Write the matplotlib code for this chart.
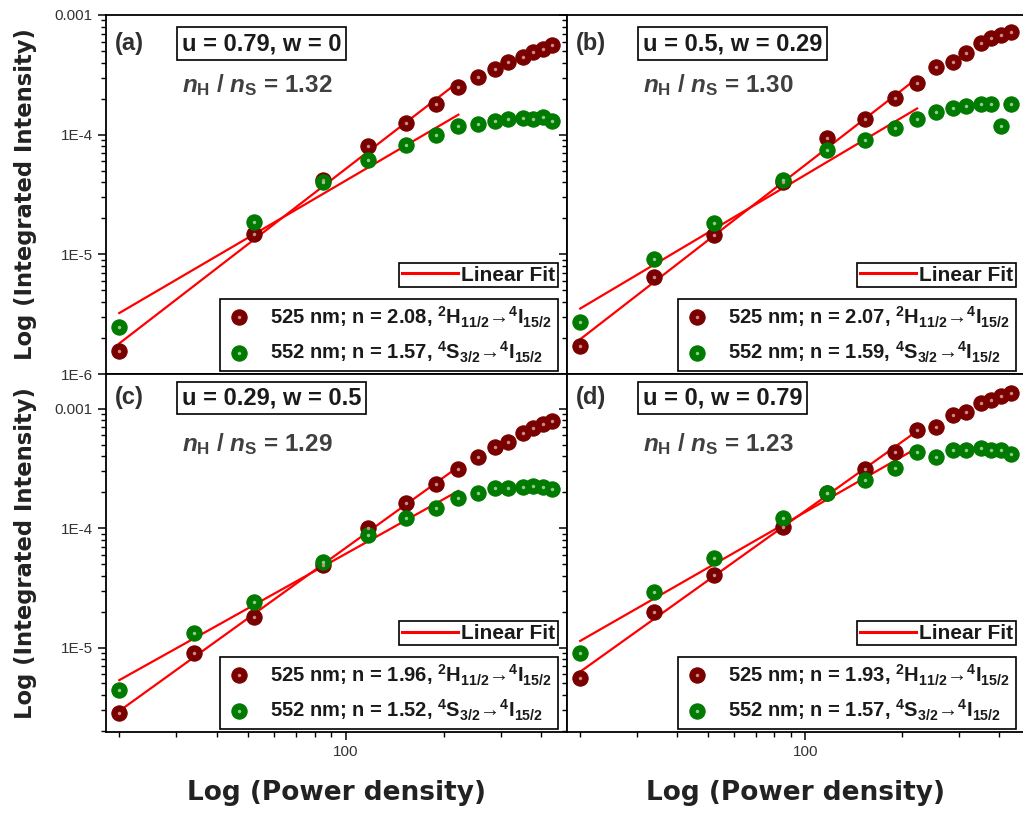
import numpy as np
import matplotlib
matplotlib.use('Agg')
import matplotlib.pyplot as plt
from matplotlib.ticker import LogLocator, FuncFormatter, NullFormatter
from matplotlib.lines import Line2D

plt.rcParams['font.family'] = ['Liberation Sans', 'DejaVu Sans']
plt.rcParams['mathtext.fontset'] = 'custom'
plt.rcParams['mathtext.rm'] = 'Liberation Sans:bold'
plt.rcParams['mathtext.it'] = 'Liberation Sans:italic:bold'
plt.rcParams['mathtext.bf'] = 'Liberation Sans:bold'

nan = np.nan

# power density (x) shared by all panels
power = [20, 34, 52, 85, 117, 153, 189, 222, 255, 287, 316, 351, 377, 405, 433]

# integrated intensity, 525 nm and 552 nm bands
a_525 = [1.57e-6, nan, 1.49e-5, 4.16e-5, 8.05e-5, 1.24e-4, 1.82e-4, 2.48e-4,
         3.05e-4, 3.51e-4, 4.07e-4, 4.48e-4, 4.87e-4, 5.17e-4, 5.61e-4]
a_552 = [2.47e-6, nan, 1.87e-5, 4.03e-5, 6.2e-5, 8.16e-5, 9.9e-5, 1.18e-4,
         1.22e-4, 1.30e-4, 1.36e-4, 1.39e-4, 1.36e-4, 1.40e-4, 1.30e-4]
b_525 = [1.73e-6, 6.46e-6, 1.44e-5, 4.03e-5, 9.29e-5, 1.34e-4, 2.01e-4, 2.68e-4,
         3.70e-4, 4.07e-4, 4.78e-4, 5.79e-4, 6.38e-4, 6.81e-4, 7.25e-4]
b_552 = [2.71e-6, 9.2e-6, 1.81e-5, 4.16e-5, 7.41e-5, 9.0e-5, 1.13e-4, 1.36e-4,
         1.55e-4, 1.66e-4, 1.73e-4, 1.82e-4, 1.82e-4, 1.18e-4, 1.80e-4]
c_525 = [2.81e-6, 8.95e-6, 1.82e-5, 4.92e-5, 1.0e-4, 1.62e-4, 2.35e-4, 3.13e-4,
         3.98e-4, 4.83e-4, 5.32e-4, 6.33e-4, 6.89e-4, 7.44e-4, 7.84e-4]
c_552 = [4.41e-6, 1.32e-5, 2.43e-5, 5.25e-5, 8.8e-5, 1.21e-4, 1.47e-4, 1.78e-4,
         1.96e-4, 2.16e-4, 2.16e-4, 2.2e-4, 2.26e-4, 2.22e-4, 2.12e-4]
d_525 = [5.53e-6, 2.0e-5, 4.07e-5, 1.03e-4, 1.96e-4, 3.13e-4, 4.39e-4, 6.67e-4,
         7.11e-4, 8.91e-4, 9.5e-4, 1.12e-3, 1.19e-3, 1.27e-3, 1.35e-3]
d_552 = [8.95e-6, 2.94e-5, 5.61e-5, 1.21e-4, 1.96e-4, 2.54e-4, 3.18e-4, 4.39e-4,
         3.98e-4, 4.53e-4, 4.5e-4, 4.68e-4, 4.53e-4, 4.5e-4, 4.2e-4]

panel_tags = ['(a)', '(b)', '(c)', '(d)']
uw_labels = ['u = 0.79, w = 0', 'u = 0.5, w = 0.29', 'u = 0.29, w = 0.5', 'u = 0, w = 0.79']
ratio = ['1.32', '1.30', '1.29', '1.23']
n_525 = ['2.08', '2.07', '1.96', '1.93']
n_552 = ['1.57', '1.59', '1.52', '1.57']
series = [(a_525, a_552), (b_525, b_552), (c_525, c_552), (d_525, d_552)]
n_fit = 8  # points used for the linear fit (up to ~222)

RED, GREEN = '#7a0000', '#007a00'
TXT = '#1a1a1a'

fig = plt.figure(figsize=(10.23, 8.13), dpi=100)
W, H = 1023, 813
boxes = [(106, 15, 461, 359), (567, 15, 458, 359),
         (106, 374, 461, 358), (567, 374, 458, 358)]


def ytick_fmt(v, pos):
    e = int(round(np.log10(v)))
    return '0.001' if e == -3 else f'1E{e}'


x = np.array(power, dtype=float)
for i, (px, py, pw, ph) in enumerate(boxes):
    ax = fig.add_axes([px / W, (H - py - ph) / H, pw / W, ph / H])
    ax.set_xscale('log')
    ax.set_yscale('log')
    ax.set_xlim(18.2, 480)
    if i < 2:
        ax.set_ylim(1e-6, 1e-3)
    else:
        ax.set_ylim(1.96e-6, 1.96e-3)

    handles = []
    for y, col, hl in zip(series[i], (RED, GREEN), ('#c98a8a', '#8ccf8c')):
        y = np.array(y)
        ok = ~np.isnan(y)
        # linear fit in log-log space
        xf, yf = x[:n_fit][ok[:n_fit]], y[:n_fit][ok[:n_fit]]
        k, b = np.polyfit(np.log10(xf), np.log10(yf), 1)
        ax.plot(xf, 10 ** (k * np.log10(xf) + b), color='#ff0000', lw=1.6, zorder=3)
        m1, = ax.plot(x[ok], y[ok], 'o', ms=11, mfc=col, mec=col, mew=0.8, zorder=4)
        m2, = ax.plot(x[ok], y[ok], 'o', ms=2.5, mfc=hl, mec='none', zorder=5)
        handles.append((m1, m2))

    fit_h = Line2D([], [], color='#ff0000', lw=2.2)
    leg1 = ax.legend([fit_h], ['Linear Fit'], loc='lower right',
                     bbox_to_anchor=(0.98, 0.242), fontsize=15, handlelength=2.7,
                     handletextpad=0.15, borderpad=0.12, fancybox=False, framealpha=1,
                     borderaxespad=0)
    leg1.get_frame().set_edgecolor('black')
    leg1.get_frame().set_linewidth(1.2)
    for t in leg1.get_texts():
        t.set_fontweight('bold')
        t.set_color(TXT)
    ax.add_artist(leg1)

    lab1 = f'525 nm; n = {n_525[i]}, $^{{2}}$H$_{{11/2}}$\u2192$^{{4}}$I$_{{15/2}}$'
    lab2 = f'552 nm; n = {n_552[i]}, $^{{4}}$S$_{{3/2}}$\u2192$^{{4}}$I$_{{15/2}}$'
    leg2 = ax.legend(handles, [lab1, lab2], loc='lower right',
                     bbox_to_anchor=(0.98, 0.008), fontsize=14.5, handlelength=1.3,
                     handletextpad=0.9, borderpad=0.3, labelspacing=0.5,
                     borderaxespad=0, fancybox=False, framealpha=1)
    leg2.get_frame().set_edgecolor('black')
    leg2.get_frame().set_linewidth(1.2)
    for t in leg2.get_texts():
        t.set_fontweight('bold')
        t.set_color(TXT)

    top_y = 0.922 if i < 2 else 0.935
    ax.text(0.02, top_y, panel_tags[i], transform=ax.transAxes, fontsize=17,
            fontweight='bold', color='#303030', va='center')
    ax.text(0.165, top_y - 0.002, uw_labels[i], transform=ax.transAxes, fontsize=17,
            fontweight='bold', color=TXT, va='center',
            bbox=dict(boxstyle='square,pad=0.2', fc='white', ec='black', lw=1.2))
    ax.text(0.165, 0.805, f'$\\mathit{{n}}_{{\\rm H}}$ / $\\mathit{{n}}_{{\\rm S}}$ = {ratio[i]}',
            transform=ax.transAxes, fontsize=17.5, fontweight='bold', color='#404040', va='center')

    ax.xaxis.set_major_locator(LogLocator(base=10))
    ax.xaxis.set_minor_locator(LogLocator(base=10, subs=np.arange(2, 10)))
    ax.xaxis.set_minor_formatter(NullFormatter())
    ax.xaxis.set_major_formatter(FuncFormatter(lambda v, p: f'{v:.0f}'))
    ax.yaxis.set_major_locator(LogLocator(base=10))
    ax.yaxis.set_minor_locator(LogLocator(base=10, subs=np.arange(2, 10)))
    ax.yaxis.set_minor_formatter(NullFormatter())
    ax.yaxis.set_major_formatter(FuncFormatter(ytick_fmt))
    ax.tick_params(which='major', direction='out', length=6, width=1.1,
                   labelsize=11, labelcolor='#333333')
    ax.tick_params(which='minor', direction='out', length=3.5, width=1)
    for s in ax.spines.values():
        s.set_linewidth(1.3)
    if i < 2:
        ax.tick_params(labelbottom=False)
    else:
        ax.set_xlabel('Log (Power density)', fontsize=19, fontweight='bold',
                      family='DejaVu Sans', color='#222222')
        ax.xaxis.set_label_coords(0.5, -0.135)
    if i % 2 == 1:
        ax.tick_params(labelleft=False)
    else:
        ax.set_ylabel('Log (Integrated Intensity)', fontsize=16.3, fontweight='bold',
                      family='DejaVu Sans', color='#222222')
        ax.yaxis.set_label_coords(-0.15, 0.5)

fig.savefig('out.png', dpi=100)
